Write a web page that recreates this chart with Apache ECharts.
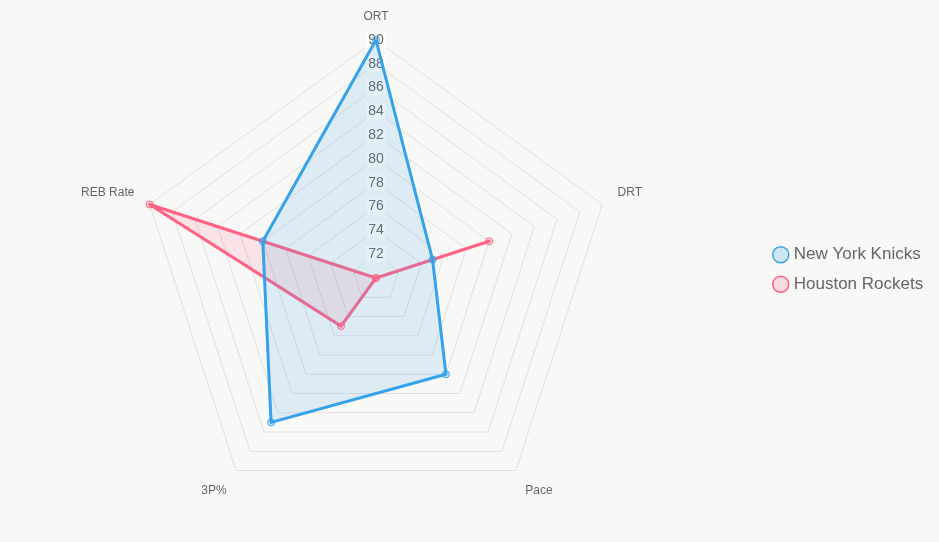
<!DOCTYPE html>
<html>
<head>
<meta charset="utf-8">
<style>
  html, body { margin: 0; padding: 0; background: #f8f8f6; }
  #chart { width: 939px; height: 542px; }
</style>
<script src="https://cdn.jsdelivr.net/npm/echarts@6/dist/echarts.min.js"></script>
</head>
<body>
<div id="chart"></div>
<script>
// radar axes, clockwise from top
const categories = ['ORT', 'DRT', 'Pace', '3P%', 'REB Rate']
const knicks = [90, 75, 80, 85, 80]
const rockets = [70, 80, 70, 75, 90]
const axisMin = 70
const axisMax = 90

let myChart = echarts.init(document.getElementById('chart'))

const font = 'Liberation Sans, Arial, sans-serif'

// echarts radar goes counter-clockwise, so walk the axes backwards after the first
const order = [0, 4, 3, 2, 1]
const pick = arr => order.map(i => arr[i])

let indicator = pick(categories).map((name, i) => {
  let ind = { name: name, min: axisMin, max: axisMax }
  if (i === 0) {
    ind.axisLabel = {
      show: true,
      showMinLabel: false,
      margin: 0,
      align: 'center',
      verticalAlign: 'middle',
      color: '#666',
      fontSize: 14,
      fontFamily: font,
      backgroundColor: 'rgba(255,255,255,0.75)',
      padding: [1, 2]
    }
  }
  return ind
})

// nudge the axis names a bit like the original layout
const nameStyle = { color: '#666', fontSize: 12, fontFamily: font }
const rich = {
  top: Object.assign({ padding: [0, 0, 1, 0] }, nameStyle),
  side: Object.assign({ padding: [0, 0, 14, 0] }, nameStyle),
  bottom: Object.assign({ padding: [14, 0, 0, 0] }, nameStyle)
}
const nameKey = { 'ORT': 'top', 'DRT': 'side', 'REB Rate': 'side', 'Pace': 'bottom', '3P%': 'bottom' }

myChart.setOption({
  backgroundColor: '#f8f8f6',
  animation: false,
  legend: {
    orient: 'vertical',
    left: 767,
    top: 241,
    itemWidth: 16,
    itemHeight: 16,
    itemGap: 12,
    textStyle: { color: '#666', fontSize: 17, fontFamily: font },
    data: [
      { name: 'New York Knicks', icon: 'circle', itemStyle: { color: 'rgba(54,162,235,0.2)', borderColor: '#36a2eb', borderWidth: 1.5 } },
      { name: 'Houston Rockets', icon: 'circle', itemStyle: { color: 'rgba(255,99,132,0.2)', borderColor: '#ff6384', borderWidth: 1.5 } }
    ]
  },
  radar: {
    center: [376, 278],
    radius: 238,
    startAngle: 90,
    splitNumber: 10,
    shape: 'polygon',
    indicator: indicator,
    axisName: {
      color: '#666',
      fontSize: 12,
      fontFamily: font,
      formatter: name => '{' + nameKey[name] + '|' + name + '}',
      rich: rich
    },
    nameGap: 16,
    axisLine: { show: false },
    axisTick: { show: false },
    axisLabel: { show: false },
    splitLine: { lineStyle: { color: '#e0e0e0', width: 1 } },
    splitArea: { show: false }
  },
  series: [{
    type: 'radar',
    data: [
      {
        name: 'Houston Rockets',
        value: pick(rockets),
        symbol: 'circle',
        symbolSize: 7,
        lineStyle: { color: '#ff6384', width: 3 },
        itemStyle: { color: 'rgba(255,99,132,0.2)', borderColor: '#ff6384', borderWidth: 1 },
        areaStyle: { color: 'rgba(255,99,132,0.2)' }
      },
      {
        name: 'New York Knicks',
        value: pick(knicks),
        symbol: 'circle',
        symbolSize: 7,
        lineStyle: { color: '#36a2eb', width: 3 },
        itemStyle: { color: 'rgba(54,162,235,0.2)', borderColor: '#36a2eb', borderWidth: 1 },
        areaStyle: { color: 'rgba(54,162,235,0.2)' }
      }
    ]
  }]
})
</script>
</body>
</html>
